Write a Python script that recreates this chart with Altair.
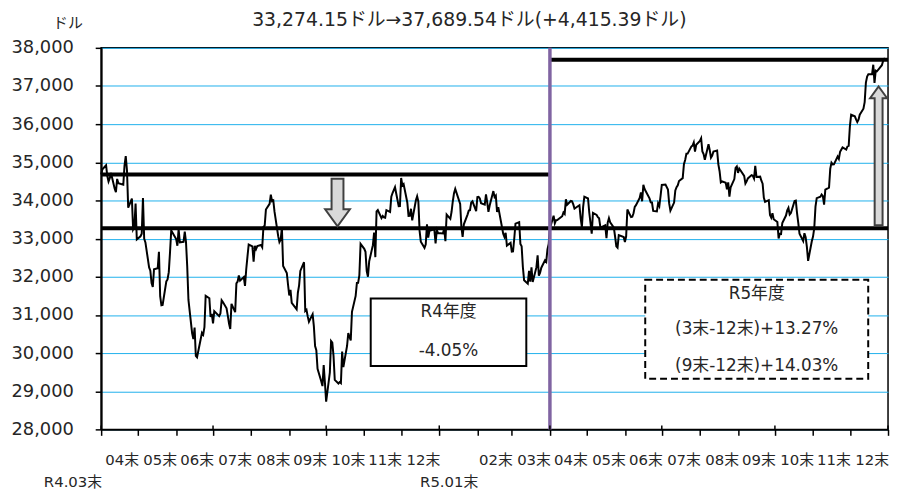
import altair as alt
import pandas as pd

# ---------------- data ----------------
title_text = "33,274.15ドル→37,689.54ドル(+4,415.39ドル)"
y_unit = "ドル"
y_ticks = [28000, 29000, 30000, 31000, 32000, 33000, 34000, 35000, 36000, 37000, 38000]

start_date = "2022-03-31"
end_date = "2023-12-31"

tick_dates = ["2022-03-31", "2022-04-30", "2022-05-31", "2022-06-30", "2022-07-31", "2022-08-31",
              "2022-09-30", "2022-10-31", "2022-11-30", "2022-12-31", "2023-01-31", "2023-02-28",
              "2023-03-31", "2023-04-30", "2023-05-31", "2023-06-30", "2023-07-31", "2023-08-31",
              "2023-09-30", "2023-10-31", "2023-11-30", "2023-12-31"]
tick_labels = ["R4.03末", "04末", "05末", "06末", "07末", "08末", "09末", "10末", "11末", "12末",
               "R5.01末", "02末", "03末", "04末", "05末", "06末", "07末", "08末", "09末", "10末",
               "11末", "12末"]
quarter_dates = ["2022-03-31", "2022-06-30", "2022-09-30", "2022-12-31", "2023-03-31",
                 "2023-06-30", "2023-09-30", "2023-12-31"]

level_from = ["2022-03-31", "2022-03-31", "2023-03-31"]
level_to = ["2023-03-31", "2023-12-31", "2023-12-31"]
level_values = [34678.35, 33274.15, 37689.54]

divider_date = "2023-03-31"

r4_box_lines = ["R4年度", "-4.05%"]
r5_box_lines = ["R5年度", "(3末-12末)+13.27%", "(9末-12末)+14.03%"]

r4_dates = [
    "2022-03-31", "2022-04-01", "2022-04-04", "2022-04-05", "2022-04-06", "2022-04-07", "2022-04-08",
    "2022-04-11", "2022-04-12", "2022-04-13", "2022-04-14", "2022-04-18", "2022-04-19", "2022-04-20",
    "2022-04-21", "2022-04-22", "2022-04-25", "2022-04-26", "2022-04-27", "2022-04-28", "2022-04-29",
    "2022-05-02", "2022-05-03", "2022-05-04", "2022-05-05", "2022-05-06", "2022-05-09", "2022-05-10",
    "2022-05-11", "2022-05-12", "2022-05-13", "2022-05-16", "2022-05-17", "2022-05-18", "2022-05-19",
    "2022-05-20", "2022-05-23", "2022-05-24", "2022-05-25", "2022-05-26", "2022-05-27", "2022-05-31",
    "2022-06-01", "2022-06-02", "2022-06-03", "2022-06-06", "2022-06-07", "2022-06-08", "2022-06-09",
    "2022-06-10", "2022-06-13", "2022-06-14", "2022-06-15", "2022-06-16", "2022-06-17", "2022-06-21",
    "2022-06-22", "2022-06-23", "2022-06-24", "2022-06-27", "2022-06-28", "2022-06-29", "2022-06-30",
    "2022-07-01", "2022-07-05", "2022-07-06", "2022-07-07", "2022-07-08", "2022-07-11", "2022-07-12",
    "2022-07-13", "2022-07-14", "2022-07-15", "2022-07-18", "2022-07-19", "2022-07-20", "2022-07-21",
    "2022-07-22", "2022-07-25", "2022-07-26", "2022-07-27", "2022-07-28", "2022-07-29",
    "2022-08-01", "2022-08-02", "2022-08-03", "2022-08-04", "2022-08-05", "2022-08-08", "2022-08-09",
    "2022-08-10", "2022-08-11", "2022-08-12", "2022-08-15", "2022-08-16", "2022-08-17", "2022-08-18",
    "2022-08-19", "2022-08-22", "2022-08-23", "2022-08-24", "2022-08-25", "2022-08-26", "2022-08-29",
    "2022-08-30", "2022-08-31",
    "2022-09-01", "2022-09-02", "2022-09-06", "2022-09-07", "2022-09-08", "2022-09-09", "2022-09-12",
    "2022-09-13", "2022-09-14", "2022-09-15", "2022-09-16", "2022-09-19", "2022-09-20", "2022-09-21",
    "2022-09-22", "2022-09-23", "2022-09-26", "2022-09-27", "2022-09-28", "2022-09-29", "2022-09-30",
    "2022-10-03", "2022-10-04", "2022-10-05", "2022-10-06", "2022-10-07", "2022-10-10", "2022-10-11",
    "2022-10-12", "2022-10-13", "2022-10-14", "2022-10-17", "2022-10-18", "2022-10-19", "2022-10-20",
    "2022-10-21", "2022-10-24", "2022-10-25", "2022-10-26", "2022-10-27", "2022-10-28", "2022-10-31",
    "2022-11-01", "2022-11-02", "2022-11-03", "2022-11-04", "2022-11-07", "2022-11-08", "2022-11-09",
    "2022-11-10", "2022-11-11", "2022-11-14", "2022-11-15", "2022-11-16", "2022-11-17", "2022-11-18",
    "2022-11-21", "2022-11-22", "2022-11-23", "2022-11-25", "2022-11-28", "2022-11-29", "2022-11-30",
    "2022-12-01", "2022-12-02", "2022-12-05", "2022-12-06", "2022-12-07", "2022-12-08", "2022-12-09",
    "2022-12-12", "2022-12-13", "2022-12-14", "2022-12-15", "2022-12-16", "2022-12-19", "2022-12-20",
    "2022-12-21", "2022-12-22", "2022-12-23", "2022-12-27", "2022-12-28", "2022-12-29", "2022-12-30",
    "2023-01-03", "2023-01-04", "2023-01-05", "2023-01-06", "2023-01-09", "2023-01-10", "2023-01-11",
    "2023-01-12", "2023-01-13", "2023-01-17", "2023-01-18", "2023-01-19", "2023-01-20", "2023-01-23",
    "2023-01-24", "2023-01-25", "2023-01-26", "2023-01-27", "2023-01-30", "2023-01-31",
    "2023-02-01", "2023-02-02", "2023-02-03", "2023-02-06", "2023-02-07", "2023-02-08", "2023-02-09",
    "2023-02-10", "2023-02-13", "2023-02-14", "2023-02-15", "2023-02-16", "2023-02-17", "2023-02-21",
    "2023-02-22", "2023-02-23", "2023-02-24", "2023-02-27", "2023-02-28",
    "2023-03-01", "2023-03-02", "2023-03-03", "2023-03-06", "2023-03-07", "2023-03-08", "2023-03-09",
    "2023-03-10", "2023-03-13", "2023-03-14", "2023-03-15", "2023-03-16", "2023-03-17", "2023-03-20",
    "2023-03-21", "2023-03-22", "2023-03-23", "2023-03-24", "2023-03-27", "2023-03-28", "2023-03-29",
    "2023-03-30", "2023-03-31",
]
r4_close = [
    34678.35, 34818.27, 34921.88, 34641.18, 34496.51, 34583.57, 34721.12,
    34308.08, 34220.36, 34564.59, 34451.23, 34411.69, 34911.20, 35160.79,
    34792.76, 33811.40, 34049.46, 33240.18, 33301.93, 33916.39, 32977.21,
    33061.50, 33128.79, 34061.06, 32997.97, 32899.37, 32245.70, 32160.74,
    31834.11, 31730.30, 32196.66, 32223.42, 32654.59, 31490.07, 31253.13,
    31261.90, 31880.24, 31928.62, 32120.28, 32637.19, 33212.96, 32990.12,
    32813.23, 33248.28, 32899.70, 32915.78, 33180.14, 32910.90, 32272.79,
    31392.79, 30516.74, 30364.83, 30668.53, 29927.07, 29888.78, 30530.25,
    30483.13, 30677.36, 31500.68, 31438.26, 30946.99, 31029.31, 30775.43,
    31097.26, 30967.82, 31037.68, 31384.55, 31338.15, 31173.84, 30981.33,
    30772.79, 30630.17, 31288.26, 31072.61, 31827.05, 31874.84, 32036.90,
    31899.29, 31990.04, 31761.54, 32197.59, 32529.63, 32845.13,
    32798.40, 32396.17, 32812.50, 32726.82, 32803.47, 32832.54, 32774.41,
    33309.51, 33336.67, 33761.05, 33912.44, 34152.01, 33980.32, 33999.04,
    33706.74, 33063.61, 32909.59, 32969.23, 33291.78, 32283.40, 32098.99,
    31790.87, 31510.43,
    31656.42, 31318.44, 31145.30, 31581.28, 31774.52, 32151.71, 32381.34,
    31104.97, 31135.09, 30961.82, 30822.42, 31019.68, 30706.23, 30183.78,
    30076.68, 29590.41, 29260.81, 29134.99, 29683.74, 29225.61, 28725.51,
    29490.89, 30316.32, 30273.87, 29926.94, 29296.79, 29202.88, 29239.19,
    29210.85, 30038.72, 29634.83, 30185.82, 30523.80, 30423.81, 30333.59,
    31082.56, 31499.62, 31836.74, 31839.11, 32033.28, 32861.80, 32732.95,
    32653.20, 32147.76, 32001.25, 32403.22, 32827.00, 33160.83, 32513.94,
    33715.37, 33747.86, 33536.70, 33592.92, 33553.83, 33546.32, 33745.69,
    33700.28, 34098.10, 34194.06, 34347.03, 33849.46, 33852.53, 34589.77,
    34395.01, 34429.88, 33947.10, 33596.34, 33597.92, 33781.48, 33476.46,
    34005.04, 34108.64, 33966.35, 33202.22, 32920.46, 32757.54, 32849.74,
    33376.48, 33027.49, 33203.93, 33241.56, 32875.71, 33220.80, 33147.25,
    33136.37, 33269.77, 32930.08, 33630.61, 33517.65, 33704.10, 33973.01,
    34189.97, 34302.61, 33910.85, 33296.96, 33044.56, 33375.49, 33629.56,
    33733.96, 33743.84, 33949.41, 33978.08, 33717.09, 34086.04,
    34092.96, 34053.94, 33926.01, 33891.02, 34156.69, 33949.01, 33699.88,
    33869.27, 34245.93, 34089.27, 34128.05, 33696.85, 33826.69, 33129.59,
    33045.09, 33153.91, 32816.92, 32889.09, 32656.70,
    32661.84, 33003.57, 33390.97, 33431.44, 32856.46, 32798.40, 32254.86,
    31909.64, 31819.14, 32155.40, 31874.57, 32246.55, 31861.98, 32244.58,
    32560.60, 32030.11, 32105.25, 32237.53, 32432.08, 32394.25, 32717.60,
    32859.03, 33274.15,
]

r5_dates = [
    "2023-04-03", "2023-04-04", "2023-04-05", "2023-04-06", "2023-04-10", "2023-04-11", "2023-04-12",
    "2023-04-13", "2023-04-14", "2023-04-17", "2023-04-18", "2023-04-19", "2023-04-20", "2023-04-21",
    "2023-04-24", "2023-04-25", "2023-04-26", "2023-04-27", "2023-04-28",
    "2023-05-01", "2023-05-02", "2023-05-03", "2023-05-04", "2023-05-05", "2023-05-08", "2023-05-09",
    "2023-05-10", "2023-05-11", "2023-05-12", "2023-05-15", "2023-05-16", "2023-05-17", "2023-05-18",
    "2023-05-19", "2023-05-22", "2023-05-23", "2023-05-24", "2023-05-25", "2023-05-26", "2023-05-30",
    "2023-05-31",
    "2023-06-01", "2023-06-02", "2023-06-05", "2023-06-06", "2023-06-07", "2023-06-08", "2023-06-09",
    "2023-06-12", "2023-06-13", "2023-06-14", "2023-06-15", "2023-06-16", "2023-06-20", "2023-06-21",
    "2023-06-22", "2023-06-23", "2023-06-26", "2023-06-27", "2023-06-28", "2023-06-29", "2023-06-30",
    "2023-07-03", "2023-07-05", "2023-07-06", "2023-07-07", "2023-07-10", "2023-07-11", "2023-07-12",
    "2023-07-13", "2023-07-14", "2023-07-17", "2023-07-18", "2023-07-19", "2023-07-20", "2023-07-21",
    "2023-07-24", "2023-07-25", "2023-07-26", "2023-07-27", "2023-07-28", "2023-07-31",
    "2023-08-01", "2023-08-02", "2023-08-03", "2023-08-04", "2023-08-07", "2023-08-08", "2023-08-09",
    "2023-08-10", "2023-08-11", "2023-08-14", "2023-08-15", "2023-08-16", "2023-08-17", "2023-08-18",
    "2023-08-21", "2023-08-22", "2023-08-23", "2023-08-24", "2023-08-25", "2023-08-28", "2023-08-29",
    "2023-08-30", "2023-08-31",
    "2023-09-01", "2023-09-05", "2023-09-06", "2023-09-07", "2023-09-08", "2023-09-11", "2023-09-12",
    "2023-09-13", "2023-09-14", "2023-09-15", "2023-09-18", "2023-09-19", "2023-09-20", "2023-09-21",
    "2023-09-22", "2023-09-25", "2023-09-26", "2023-09-27", "2023-09-28", "2023-09-29",
    "2023-10-02", "2023-10-03", "2023-10-04", "2023-10-05", "2023-10-06", "2023-10-09", "2023-10-10",
    "2023-10-11", "2023-10-12", "2023-10-13", "2023-10-16", "2023-10-17", "2023-10-18", "2023-10-19",
    "2023-10-20", "2023-10-23", "2023-10-24", "2023-10-25", "2023-10-26", "2023-10-27", "2023-10-30",
    "2023-10-31",
    "2023-11-01", "2023-11-02", "2023-11-03", "2023-11-06", "2023-11-07", "2023-11-08", "2023-11-09",
    "2023-11-10", "2023-11-13", "2023-11-14", "2023-11-15", "2023-11-16", "2023-11-17", "2023-11-20",
    "2023-11-21", "2023-11-22", "2023-11-24", "2023-11-27", "2023-11-28", "2023-11-29", "2023-11-30",
    "2023-12-01", "2023-12-04", "2023-12-05", "2023-12-06", "2023-12-07", "2023-12-08", "2023-12-11",
    "2023-12-12", "2023-12-13", "2023-12-14", "2023-12-15", "2023-12-18", "2023-12-19", "2023-12-20",
    "2023-12-21", "2023-12-22", "2023-12-26", "2023-12-27", "2023-12-28", "2023-12-29",
]
r5_close = [
    33601.15, 33402.38, 33482.72, 33485.29, 33586.52, 33684.79, 33646.50,
    34029.69, 33886.47, 33987.18, 33976.63, 33897.01, 33786.62, 33808.96,
    33875.40, 33530.83, 33301.87, 33826.16, 34098.16,
    34051.70, 33684.53, 33414.24, 33127.74, 33674.38, 33618.69, 33561.81,
    33531.33, 33309.51, 33300.62, 33348.60, 33012.14, 33420.77, 33535.91,
    33426.63, 33286.58, 33055.51, 32799.92, 32764.65, 33093.34, 33042.78,
    32908.27,
    33061.57, 33762.76, 33562.86, 33573.28, 33665.02, 33833.61, 33876.78,
    34066.33, 34212.12, 33979.33, 34408.06, 34299.12, 34053.87, 33951.52,
    33946.71, 33727.43, 33714.71, 33926.74, 33852.66, 34122.42, 34407.60,
    34418.47, 34288.64, 33922.26, 33734.88, 33944.40, 34261.42, 34347.43,
    34395.14, 34509.03, 34585.35, 34951.93, 35061.21, 35225.18, 35227.69,
    35411.24, 35438.07, 35520.12, 35282.72, 35459.29, 35559.53,
    35630.68, 35282.52, 35215.89, 35065.62, 35473.13, 35314.49, 35123.36,
    35176.15, 35281.40, 35307.63, 34946.39, 34765.74, 34474.83, 34500.66,
    34463.69, 34288.83, 34472.98, 34099.42, 34346.90, 34559.98, 34852.67,
    34890.24, 34721.91,
    34837.71, 34641.97, 34443.19, 34500.73, 34576.59, 34663.72, 34645.99,
    34575.53, 34907.11, 34618.24, 34624.30, 34517.73, 34440.88, 34070.42,
    33963.84, 34006.88, 33618.88, 33550.27, 33666.34, 33507.50,
    33433.35, 33002.38, 33129.55, 33119.57, 33407.58, 33604.65, 33739.30,
    33804.87, 33631.14, 33670.29, 33984.54, 33997.65, 33665.08, 33414.17,
    33127.28, 32936.41, 33141.38, 33035.93, 32784.30, 32417.59, 32928.96,
    33052.87,
    33274.58, 33839.08, 34061.32, 34095.86, 34152.60, 34112.27, 33891.94,
    34283.10, 34337.87, 34827.70, 34991.21, 34945.47, 34947.28, 35151.04,
    35088.29, 35273.03, 35390.15, 35333.47, 35416.98, 35430.42, 35950.89,
    36245.50, 36204.44, 36124.56, 36054.43, 36117.38, 36247.87, 36404.93,
    36577.94, 37090.24, 37248.35, 37305.16, 37306.02, 37557.92, 37082.00,
    37404.35, 37385.97, 37545.33, 37656.52, 37710.10, 37689.54,
]

# ---------------- frames ----------------
t0 = pd.Timestamp(start_date)


def days(ds):
    return [int((pd.Timestamp(d) - t0).days) for d in ds]


line_df = pd.DataFrame({"day": days(r4_dates + r5_dates), "close": r4_close + r5_close})
tick_days = days(tick_dates)
quarter_days = days(quarter_dates)
end_day = days([end_date])[0]
levels_df = pd.DataFrame({"day": days(level_from), "d1": days(level_to), "close": level_values})
divider_df = pd.DataFrame({"day": days([divider_date])})
quarter_df = pd.DataFrame({"day": quarter_days})
ticklab_df = pd.DataFrame({"day": tick_days, "lab": tick_labels})

FONT = "DejaVu Sans, Noto Sans CJK JP, sans-serif"
TXT = "#262626"
W, H = 794, 385

xscale = alt.Scale(domain=[0, end_day], nice=False, zero=False)
yscale = alt.Scale(domain=[y_ticks[0], y_ticks[-1]], nice=False, zero=False)

x_style = dict(labels=False, tickSize=6, tickColor="black", tickWidth=1.5, domainColor="black",
               domainWidth=2, grid=False)
y_style = dict(labelFontSize=18, labelPadding=22, labelFont=FONT, labelColor=TXT, tickSize=6,
               tickColor="black", tickWidth=1.5, domainColor="black", domainWidth=2, grid=True,
               gridColor="#1FB0EC", gridWidth=1, titleAngle=0, titleX=-34, titleY=-26,
               titleAlign="center", titleBaseline="middle", titleFontSize=15,
               titleFontWeight="normal", titleColor=TXT, titleFont=FONT)

x_axis = alt.Axis(values=tick_days, tickCount=60, title=None, **x_style)
y_axis = alt.Axis(values=y_ticks, tickCount=60, labelExpr="format(datum.value, ',')",
                  title=y_unit, **y_style)

X = alt.X("day:Q", scale=xscale, axis=x_axis)
Y = alt.Y("close:Q", scale=yscale, axis=y_axis)

one = pd.DataFrame({"k": [0]})

line = alt.Chart(line_df).mark_line(color="black", strokeWidth=2, interpolate="linear").encode(
    x=X, y=Y,
)

levels = alt.Chart(levels_df).mark_rule(color="black", strokeWidth=4).encode(
    x=X, x2="d1:Q", y=Y,
)

divider = alt.Chart(divider_df).mark_rule(color="#8064A2", strokeWidth=3.5).encode(x=X)

qticks = alt.Chart(quarter_df).mark_rule(color="black", strokeWidth=1.5).encode(
    x=X, y=alt.value(H - 4), y2=alt.value(H),
)

# month-end labels: short ones on the first row, the era-prefixed ones a row lower
xlab_short = alt.Chart(ticklab_df).transform_filter(
    "indexof(datum.lab, 'R') != 0"
).mark_text(align="right", baseline="middle", font=FONT, fontSize=15, color=TXT, dx=1).encode(
    x=X, y=alt.value(H + 31), text="lab:N")
xlab_long = alt.Chart(ticklab_df).transform_filter(
    "indexof(datum.lab, 'R') == 0"
).mark_text(align="right", baseline="middle", font=FONT, fontSize=15, color=TXT, dx=1).encode(
    x=X, y=alt.value(H + 53), text="lab:N")

r4_box = alt.Chart(one).mark_rect(fill="white", stroke="black", strokeWidth=2).encode(
    x=alt.value(272), x2=alt.value(429), y=alt.value(253), y2=alt.value(321))
r5_box = alt.Chart(one).mark_rect(fill="white", stroke="black", strokeWidth=2,
                                  strokeDash=[7, 4]).encode(
    x=alt.value(549), x2=alt.value(774), y=alt.value(234), y2=alt.value(334))


def label(txt, x, y, size=17, baseline="middle"):
    return alt.Chart(pd.DataFrame({"t": [txt]})).mark_text(
        font=FONT, fontSize=size, color=TXT, align="center", baseline=baseline
    ).encode(text="t:N", x=alt.value(x), y=alt.value(y))


texts = [
    label(r4_box_lines[0], 350.5, 267),
    label(r4_box_lines[1], 350.5, 306),
    label(r5_box_lines[0], 661.5, 248),
    label(r5_box_lines[1], 661.5, 284),
    label(r5_box_lines[2], 661.5, 321),
    label(title_text, 371.5, -37, size=19, baseline="top"),
]

down_path = "M-0.25,-1 L0.25,-1 L0.25,0.29 L0.52,0.29 L0,1 L-0.52,0.29 L-0.25,0.29 Z"
up_path = "M0,-1 L0.123,-0.83 L0.057,-0.83 L0.057,1 L-0.057,1 L-0.057,-0.83 L-0.123,-0.83 Z"

down_arrow = alt.Chart(one).mark_point(shape=down_path, size=48 * 48, filled=True, fill="#D9D9D9",
                                       stroke="#404040", strokeWidth=2, opacity=1).encode(
    x=alt.value(238.5), y=alt.value(156))
up_arrow = alt.Chart(one).mark_point(shape=up_path, size=140 * 140, filled=True, fill="#D9D9D9",
                                     stroke="#404040", strokeWidth=2, opacity=1).encode(
    x=alt.value(784.5), y=alt.value(109))

chart = alt.layer(line, levels, divider, qticks, xlab_short, xlab_long, r4_box, r5_box, *texts,
                  down_arrow, up_arrow).properties(
    width=W, height=H,
    padding={"left": 94, "top": 38, "right": 3, "bottom": 63},
    autosize=alt.AutoSizeParams(type="none"),
    background="white",
).configure_view(stroke="black", strokeWidth=1.5
).configure_axisX(**x_style).configure_axisY(**y_style)

chart.save("out.html", embed_options={"renderer": "svg", "actions": False})
